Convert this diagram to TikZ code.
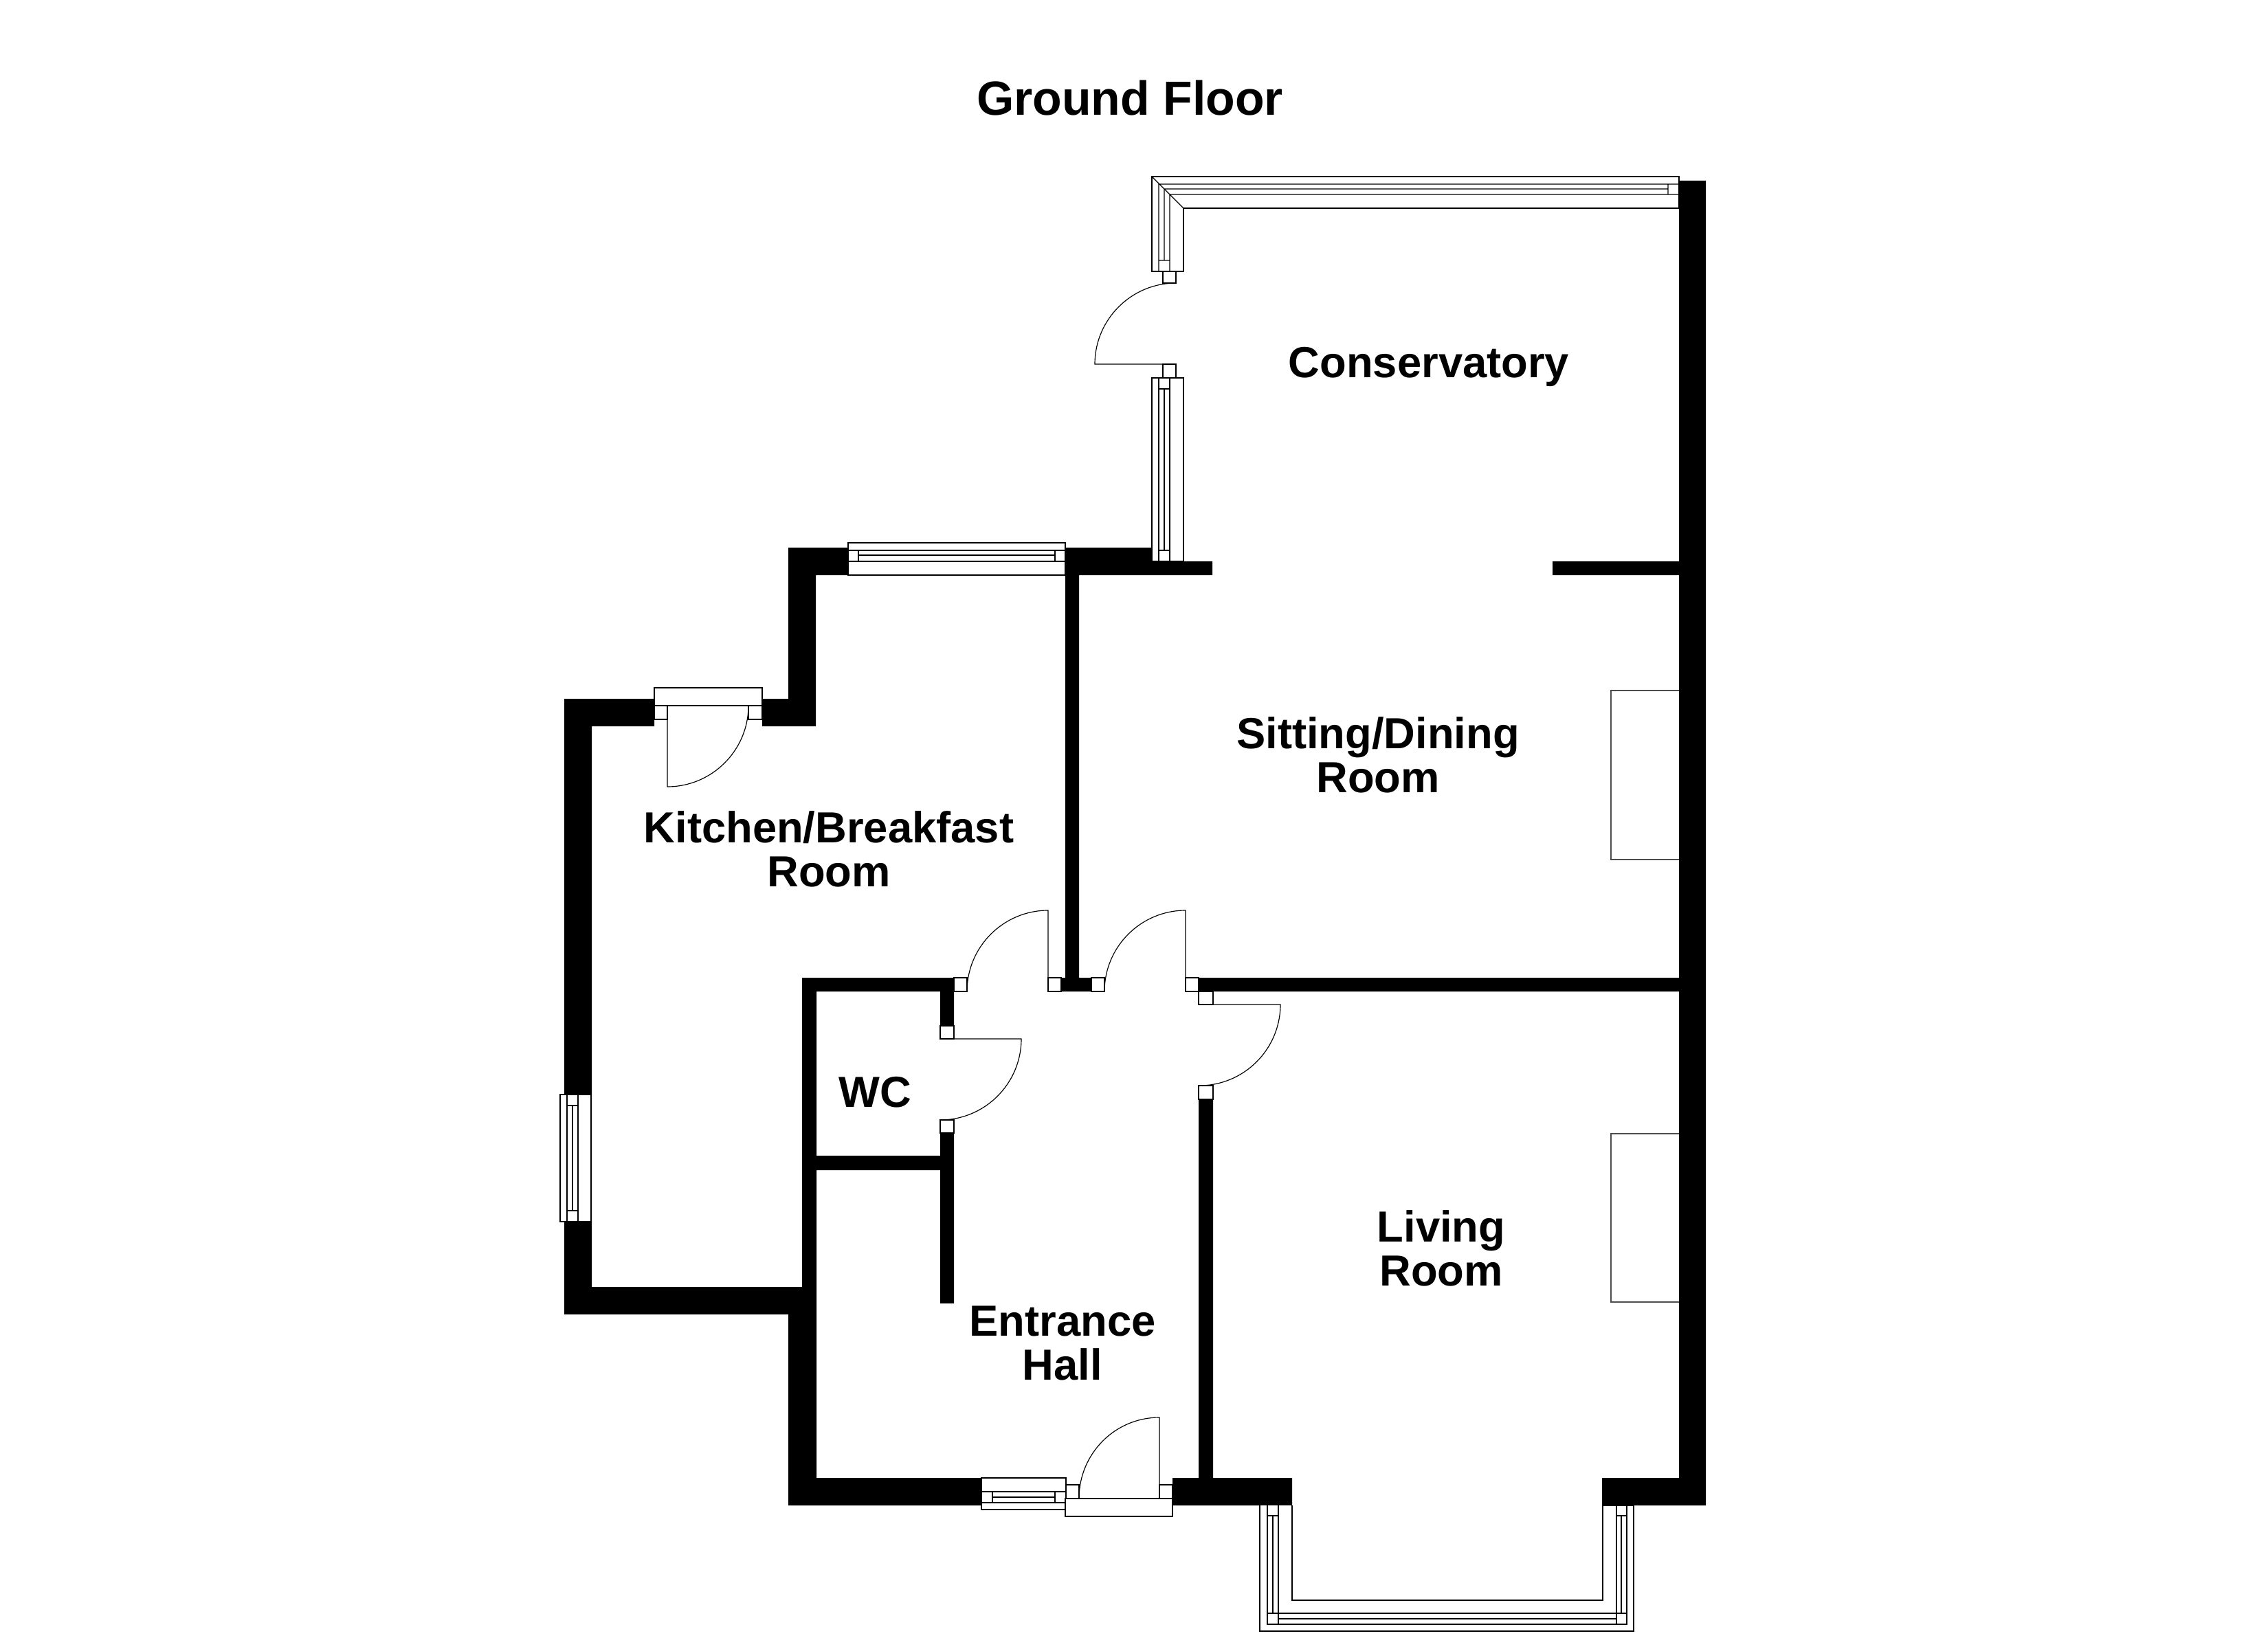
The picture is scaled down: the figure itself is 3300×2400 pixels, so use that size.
\documentclass[tikz,border=0pt]{standalone}
\usepackage{fontspec}
\setmainfont{Liberation Sans}
\tikzset{
  plan/.style={x=0.24pt,y=-0.24pt},
  wall/.style={fill=black,draw=none},
  frame/.style={draw=black,fill=white,line width=0.3pt,line join=miter},
  glass/.style={draw=black,line width=0.3pt},
  swing/.style={draw=black,line width=0.28pt},
  hearth/.style={draw=black!70,line width=0.3pt},
  room/.style={font=\bfseries\fontsize{15.2}{15.2}\selectfont,align=center,inner sep=0pt,text=black},
  heading/.style={font=\bfseries\fontsize{16.75}{20}\selectfont,inner sep=0pt,text=black}
}
\begin{document}
\begin{tikzpicture}[plan]
\useasboundingbox (0,0) rectangle (3300,2400);
\fill[white] (0,0) rectangle (3300,2400);
% walls
\fill[wall]
  (821,1017) rectangle (861,1913)
  (821,1017) rectangle (952,1057)
  (1109,1017) rectangle (1187,1057)
  (1147,797) rectangle (1187,1057)
  (1147,797) rectangle (1234,837)
  (821,1873) rectangle (1188,1913)
  (1167,1423) rectangle (1188,2191)
  (1147,1913) rectangle (1188,2191)
  (1147,2151) rectangle (1428,2191)
  (1706,2151) rectangle (1880,2191)
  (2331,2151) rectangle (2482,2191)
  (2443,263) rectangle (2482,2191)
  (1550,797) rectangle (1675,837)
  (1675,817) rectangle (1764,837)
  (2259,817) rectangle (2443,837)
  (1550,837) rectangle (1570,1443)
  (1167,1423) rectangle (1388,1443)
  (1368,1443) rectangle (1388,1493)
  (1368,1649) rectangle (1388,1897)
  (1188,1682) rectangle (1368,1703)
  (1544,1423) rectangle (1588,1443)
  (1744,1423) rectangle (2443,1443)
  (1744,1600) rectangle (1765,2151);
% conservatory corner window
\draw[frame] (1676,257) -- (2443,257) -- (2443,303) -- (1722,303) -- (1722,395) -- (1676,395) -- cycle;
\draw[glass] (1676,257) -- (1722,303)
  (1686,395) -- (1686,268) -- (2443,268)
  (1702,395) -- (1702,283) -- (2443,283)
  (1694,379) -- (1694,275) -- (2427,275)
  (2427,268) -- (2427,283)
  (1686,379) -- (1702,379);
\draw[frame] (1692,395) rectangle (1711,412);
% conservatory door
\draw[swing] (1711,412) .. controls (1646,412) and (1593,465) .. (1593,530) -- (1692,530);
\draw[frame] (1692,530) rectangle (1711,550);
% conservatory lower window
\draw[frame] (1676,550) rectangle (1722,817);
\draw[glass] (1686,550) -- (1686,817) (1702,550) -- (1702,817)
  (1694,566) -- (1694,801) (1686,566) -- (1702,566) (1686,801) -- (1702,801);
% kitchen rear window
\draw[frame] (1234,790) rectangle (1550,837);
\draw[glass] (1234,801) -- (1550,801) (1234,817) -- (1550,817)
  (1249,808) -- (1535,808) (1249,801) -- (1249,817) (1535,801) -- (1535,817);
% kitchen back door
\draw[frame] (952,1001) rectangle (1109,1027);
\draw[frame] (952,1027) rectangle (971,1047);
\draw[frame] (1089,1027) rectangle (1109,1047);
\draw[swing] (971,1027) -- (971,1145) .. controls (1036,1145) and (1089,1092) .. (1089,1027);
% kitchen side window
\draw[frame] (815,1593) rectangle (860,1778);
\draw[glass] (825,1593) -- (825,1778) (841,1593) -- (841,1778)
  (833,1609) -- (833,1762) (825,1609) -- (841,1609) (825,1762) -- (841,1762);
% internal door jambs
\draw[frame] (1388,1423) rectangle (1407,1443);
\draw[frame] (1525,1423) rectangle (1544,1443);
\draw[frame] (1588,1423) rectangle (1607,1443);
\draw[frame] (1725,1423) rectangle (1744,1443);
\draw[frame] (1744,1443) rectangle (1765,1462);
\draw[frame] (1744,1580) rectangle (1765,1600);
\draw[frame] (1368,1493) rectangle (1388,1512);
\draw[frame] (1368,1630) rectangle (1388,1649);
% internal door leaves
\draw[swing] (1407,1443) .. controls (1407,1378) and (1460,1325) .. (1525,1325) -- (1525,1443);
\draw[swing] (1607,1443) .. controls (1607,1378) and (1660,1325) .. (1725,1325) -- (1725,1443);
\draw[swing] (1765,1462) -- (1863,1462) .. controls (1863,1527) and (1810,1580) .. (1745,1580);
\draw[swing] (1388,1512) -- (1486,1512) .. controls (1486,1577) and (1433,1630) .. (1368,1630);
% entrance window and door
\draw[frame] (1428,2151) rectangle (1551,2197);
\draw[glass] (1428,2171) -- (1551,2171) (1428,2187) -- (1551,2187)
  (1444,2179) -- (1535,2179) (1444,2171) -- (1444,2187) (1535,2171) -- (1535,2187);
\draw[frame] (1551,2161) rectangle (1570,2181);
\draw[frame] (1687,2161) rectangle (1706,2181);
\draw[frame] (1550,2181) rectangle (1706,2207);
\draw[swing] (1570,2181) .. controls (1570,2116) and (1622,2063) .. (1687,2063) -- (1687,2181);
% bay window
\draw[frame] (1833,2191) -- (1833,2374) -- (2377,2374) -- (2377,2191) -- (2332,2191) -- (2332,2329) -- (1880,2329) -- (1880,2191);
\draw[glass] (1844,2191) -- (1844,2364) -- (2367,2364) -- (2367,2191)
  (1860,2191) -- (1860,2364) (2352,2191) -- (2352,2364)
  (1844,2348) -- (2367,2348) (1860,2356) -- (2352,2356)
  (1852,2206) -- (1852,2348) (2359,2206) -- (2359,2348)
  (1844,2206) -- (1860,2206) (2352,2206) -- (2367,2206);
% chimney breasts
\draw[hearth] (2443,1005) -- (2344,1005) -- (2344,1251) -- (2443,1251);
\draw[hearth] (2443,1650) -- (2344,1650) -- (2344,1895) -- (2443,1895);
% labels
\node[heading] (title) at (1644,143) {Ground Floor};
\node[room] (cons) at (2079,534) {Conservatory};
\node[room] (sit) at (2005,1099) {Sitting/Dining\\Room};
\node[room] (kit) at (1206,1236) {Kitchen/Breakfast\\Room};
\node[room] (wc) at (1273,1590) {WC};
\node[room] (hall) at (1546,1955) {Entrance\\Hall};
\node[room] (liv) at (2097,1817) {Living\\Room};
\end{tikzpicture}
\end{document}
